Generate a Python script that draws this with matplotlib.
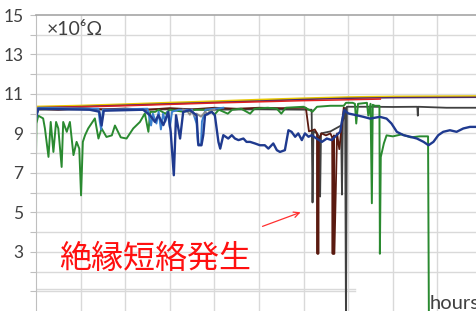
import numpy as np
import matplotlib
matplotlib.use('Agg')
import matplotlib.pyplot as plt

# data (x = hours scale, y = x10^6 ohm)
yellow_x = [0, 1, 2, 3, 4, 5, 6, 7, 8, 9.87]
yellow_y = [10.35, 10.4, 10.47, 10.55, 10.62, 10.7, 10.77, 10.83, 10.86, 10.88]
purple_x = [0, 0.05, 1, 2, 3, 4, 5, 6, 7, 8, 9.87]
purple_y = [9.8, 10.3, 10.36, 10.43, 10.5, 10.57, 10.64, 10.72, 10.78, 10.81, 10.83]
red_x = [0, 1, 2, 3, 4, 5, 6, 6.9, 7.3, 7.72]
red_y = [10.3, 10.34, 10.4, 10.47, 10.54, 10.6, 10.66, 10.7, 10.72, 10.74]
black_x = [0, 0.05, 1.0, 2.0, 3.0, 4.0, 5.0, 6.18, 6.2, 6.22, 6.3, 6.36, 6.37, 6.39, 6.6, 6.84, 6.86,
           6.88, 6.93, 6.95, 6.97, 7.5, 8.0, 8.55, 8.56, 8.57, 9.2, 9.87]
black_y = [9.9, 10.2, 10.22, 10.2, 10.22, 10.2, 10.22, 10.2, 5.5, 9.1, 9.0, 8.8, 5.8, 9.0, 9.1, 9.4, 5.9,
           9.6, 10.3, -1.0, 10.35, 10.35, 10.34, 10.35, 9.9, 10.35, 10.3, 10.3]
brown_x = [0, 0.05, 0.5, 1.0, 1.5, 2.0, 2.5, 3.0, 3.5, 4.0, 4.5, 5.0, 5.5, 6.05, 6.12, 6.25, 6.3,
           6.31, 6.32, 6.33, 6.34, 6.4, 6.5, 6.6, 6.64, 6.65, 6.66, 6.67, 6.68, 6.69, 6.75, 6.8, 6.9]
brown_y = [9.9, 10.25, 10.2, 10.27, 10.22, 10.26, 10.2, 10.28, 10.22, 10.3, 10.25, 10.3, 10.28, 10.3,
           9.1, 9.2, 9.0, 2.9, 8.8, 2.9, 8.7, 9.0, 8.9, 9.0, 8.8, 2.9, 8.8, 2.9, 8.9, 2.9, 9.0, 8.2, 10.3]
green_x = [0, 0.01, 0.05, 0.16, 0.2, 0.28, 0.33, 0.39, 0.45, 0.5, 0.575, 0.61, 0.69, 0.76, 0.84,
           0.91, 0.97, 1.01, 1.05, 1.1, 1.17, 1.32, 1.4, 1.47, 1.58, 1.7, 1.77, 1.9, 2.03, 2.18,
           2.33, 2.44, 2.52, 2.56, 2.67, 2.75, 2.9, 3.0, 3.3, 3.6, 3.9, 4.0, 4.1, 4.3, 4.4, 4.6,
           4.8, 4.9, 5.2, 5.4, 5.5, 5.6, 6.0, 6.2, 6.3, 6.6, 6.9, 6.95, 7.1, 7.15, 7.18, 7.22,
           7.42, 7.45, 7.5, 7.53, 7.55, 7.6, 7.7, 7.71, 7.73, 7.8, 7.86, 8.0, 8.2, 8.4, 8.6,
           8.79, 8.81, 8.83]
green_y = [7.8, 9.5, 9.9, 9.76, 9.25, 7.81, 9.58, 8.06, 9.58, 9.25, 7.3, 9.58, 9.08, 9.58, 7.9,
           8.57, 8.23, 5.86, 8.57, 8.91, 9.25, 9.76, 8.74, 9.25, 8.82, 8.9, 9.4, 8.8, 8.74, 9.25,
           9.58, 10.01, 9.08, 10.09, 10.09, 10.2, 10.0, 10.2, 10.1, 10.2, 10.2, 9.95, 10.2, 10.0,
           10.2, 10.25, 10.0, 10.25, 10.3, 10.25, 10.0, 10.3, 10.35, 10.1, 10.35, 10.4, 10.4,
           10.55, 10.55, 10.5, 9.5, 10.5, 10.55, 9.9, 10.5, 5.46, 10.45, 10.4, 10.4, 2.9, 7.8,
           8.5, 8.9, 8.85, 8.95, 8.8, 8.85, 8.85, -1.0, -1.0]
lblue_x = [0, 0.05, 1.4, 1.43, 1.46, 1.5, 2.5, 2.58, 2.62, 2.7, 2.75, 2.8, 2.85, 2.9, 2.95, 3.0,
           3.05, 3.2, 3.5, 3.6, 3.63, 3.7, 3.72, 3.8, 4.0, 4.2]
lblue_y = [9.7, 10.3, 10.25, 9.6, 9.2, 10.2, 10.25, 9.4, 10.0, 9.5, 10.1, 9.2, 10.0, 9.6, 10.1,
           9.3, 10.1, 10.2, 10.2, 9.5, 8.5, 8.4, 9.6, 10.2, 10.25, 10.3]
gray_x = [3.3, 3.4, 3.45, 3.5, 3.55, 3.6, 3.7, 3.8, 3.85, 3.9, 4.0]
gray_y = [10.2, 10.1, 9.95, 10.15, 9.9, 10.0, 9.85, 10.1, 9.95, 10.15, 10.2]
navy_x = [0, 0.05, 1.2, 1.42, 1.47, 1.52, 2.4, 2.556, 2.668, 2.743, 2.855, 2.967, 3.02, 3.09,
          3.14, 3.23, 3.3, 3.45, 3.6, 3.64, 3.71, 3.75, 3.79, 3.94, 4.01, 4.09, 4.13, 4.2, 4.31,
          4.39, 4.46, 4.54, 4.65, 4.72, 4.8, 4.91, 5.02, 5.13, 5.21, 5.32, 5.4, 5.47, 5.58, 5.66,
          5.73, 5.81, 5.88, 5.96, 6.03, 6.11, 6.18, 6.29, 6.41, 6.52, 6.63, 6.74, 6.82, 6.85,
          6.91, 7.0, 7.19, 7.34, 7.49, 7.71, 7.86, 7.97, 8.09, 8.24, 8.39, 8.54, 8.69, 8.8, 8.91,
          9.02, 9.13, 9.28, 9.43, 9.58, 9.73, 9.87]
navy_y = [9.8, 10.25, 10.2, 10.1, 9.4, 10.15, 10.2, 9.92, 9.58, 9.92, 9.42, 10.09, 9.08, 6.88,
          9.92, 8.74, 10.09, 10.18, 9.92, 8.4, 8.4, 8.91, 9.92, 10.09, 9.92, 8.57, 8.23, 8.91, 8.74,
          8.91, 8.74, 8.66, 8.74, 8.57, 8.57, 8.49, 8.4, 8.4, 8.23, 8.49, 8.15, 8.06, 8.15, 9.16,
          9.08, 8.83, 9.0, 8.66, 9.0, 8.83, 8.91, 8.74, 8.57, 8.74, 8.66, 8.91, 9.08, 9.5, 10.18,
          10.01, 9.92, 9.84, 9.75, 9.84, 9.75, 9.5, 9.08, 8.91, 8.83, 8.74, 8.57, 8.4, 8.57, 8.91,
          9.08, 9.16, 9.08, 9.25, 9.33, 9.33]
low_x = [0, 7.15]
low_a = [1.13, 1.13]
low_b = [1.0, 1.0]

fig = plt.figure(figsize=(4.76, 3.11), dpi=100)
ax = fig.add_axes([36/476, 0, 440/476, 296/311])
ax.set_xlim(0, 9.865)
ax.set_ylim(0, 15)

for v in range(1, 10):
    ax.axvline(v, color='#d9d9d9', lw=1, zorder=0)
for v in range(2, 15):
    ax.axhline(v, color='#d9d9d9', lw=1, zorder=0)

ax.plot(low_x, low_a, color='#d9d9d9', lw=1.0)
ax.plot(low_x, low_b, color='#d9d9d9', lw=1.0)
ax.plot(yellow_x, yellow_y, color='#e8c800', lw=1.6)
ax.plot(purple_x, purple_y, color='#4b2a6b', lw=1.1)
ax.plot(red_x, red_y, color='#e02020', lw=1.1)
ax.plot(black_x, black_y, color='#404040', lw=1.3)
ax.plot(brown_x, brown_y, color='#5a1a10', lw=1.3)
ax.plot(green_x, green_y, color='#2a8a30', lw=1.4)
ax.plot(lblue_x, lblue_y, color='#3a80d0', lw=1.4)
ax.plot(gray_x, gray_y, color='#8c8c8c', lw=1.4)
ax.plot(navy_x, navy_y, color='#1f3a8f', lw=1.7)

ax.set_xticks([])
ax.set_yticks(range(1, 16))
ax.set_yticklabels(['' if (v < 3 or v % 2 == 0) else str(v) for v in range(1, 16)])
ax.tick_params(axis='y', length=4, color='#bfbfbf', labelsize=12.5, labelcolor='#404040', pad=5)
for t in ax.get_yticklabels():
    t.set_fontfamily('Lato')
ax.spines['right'].set_visible(False)
ax.spines['bottom'].set_visible(False)
ax.spines['left'].set_color('#bfbfbf')
ax.spines['top'].set_color('#a6a6a6')
ax.spines['top'].set_linewidth(1.2)

ax.text(0.25, 14.25, '×10⁶Ω', fontsize=14, color='#404040', va='center', family=['Lato', 'DejaVu Sans'])
ax.text(8.83, 0.82, 'hours', fontsize=14.5, color='#404040', va='top', family='Lato', clip_on=False)
ax.text(0.52, 2.65, '絶縁短絡発生', fontsize=23, color='#ff1010', va='center', family='Noto Sans CJK JP')
ax.annotate('', xy=(5.99, 5.05), xytext=(5.02, 4.24),
            arrowprops=dict(arrowstyle='->', color='#ff3030', lw=0.9))

fig.savefig('out.png', dpi=100)
